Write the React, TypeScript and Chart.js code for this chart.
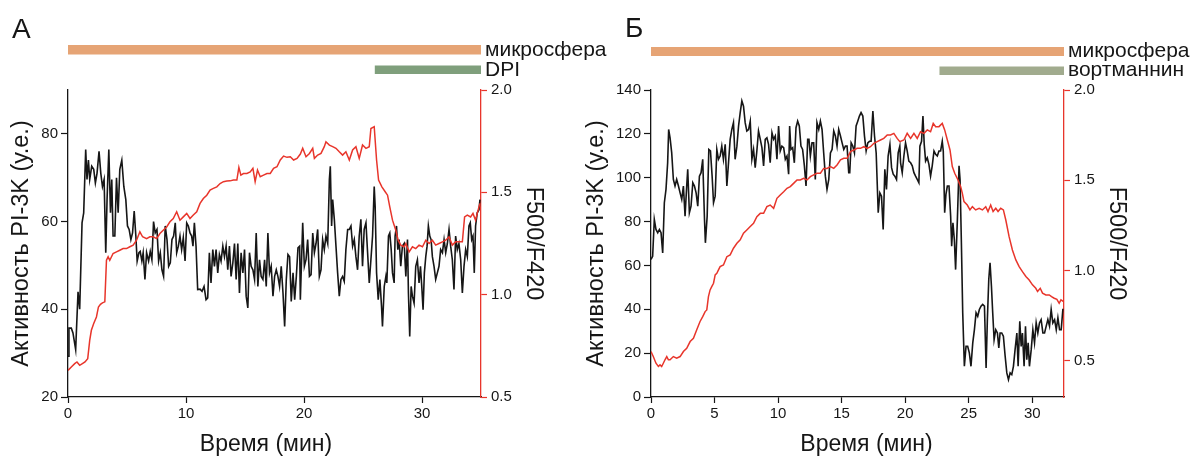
import React, { useEffect, useRef } from 'react';
import { Chart, registerables } from 'chart.js';

Chart.register(...registerables);

const FONT = "'Liberation Sans', Arial, sans-serif";
const INK = '#161616';
const RED = '#e8352b';

// ---------- Panel А (DPI) ----------
const aTitleLeft = 'Активность PI-3K (у.е.)';
const aTitleRight = 'F500/F420';
const xTitle = 'Время (мин)';

const aActivity: [number, number][] = [
  [0,29.3],[0.08,35.7],[0.28,35.7],[0.42,34.6],[0.65,30.8],[0.85,44],[0.99,40],[1.19,59.7],[1.33,62],[1.5,76.4],[1.61,69.6],[1.73,74],[1.84,69.6],[2.01,72.6],[2.18,71.9],[2.32,68.8],[2.46,71],[2.63,76],[2.78,71],[2.92,68],[3.06,69.6],[3.2,52.9],[3.31,65],[3.46,76.4],[3.6,62],[3.71,69.6],[3.82,56.7],[3.97,56.7],[4.11,70],[4.25,62],[4.39,71.9],[4.56,74],[4.73,68],[4.9,65],[5.04,59],[5.18,58.2],[5.33,55.9],[5.47,57.4],[5.61,62.4],[5.75,56.7],[5.86,51],[6.01,52.9],[6.12,53.2],[6.26,51],[6.37,52.9],[6.52,46.8],[6.66,52.9],[6.83,51],[6.97,53.2],[7.11,51.3],[7.25,60],[7.39,57.4],[7.54,58.2],[7.68,51],[7.82,52.9],[7.96,49],[8.1,47.5],[8.24,59],[8.39,55.9],[8.53,49.8],[8.67,50.6],[8.81,55.9],[8.95,56.7],[9.09,59.7],[9.21,52.9],[9.35,54.4],[9.49,56.7],[9.63,53.6],[9.77,56.3],[9.92,51],[10.06,59.7],[10.2,59],[10.34,57.4],[10.48,56.7],[10.59,54.4],[10.71,59.7],[10.85,54.4],[10.99,44.5],[11.19,44.6],[11.36,44.1],[11.53,45.2],[11.7,42.2],[11.84,42.6],[11.98,52.9],[12.12,46],[12.27,53.6],[12.41,49.8],[12.55,53.6],[12.69,48.3],[12.83,52.5],[12.97,51],[13.12,54.4],[13.26,52],[13.4,54.4],[13.54,49],[13.68,54.4],[13.82,47.5],[13.97,50.6],[14.11,55],[14.25,46.8],[14.39,55],[14.53,43.7],[14.67,52.9],[14.82,48.3],[14.96,53.6],[15.1,43],[15.24,40.3],[15.38,52.9],[15.52,49.8],[15.67,49],[15.81,46.8],[15.95,57.4],[16.09,45.2],[16.23,51.3],[16.37,47.5],[16.52,46.8],[16.66,51.3],[16.8,45.2],[16.94,57.4],[17.08,48.3],[17.22,49.8],[17.37,43],[17.51,47.5],[17.65,49],[17.79,47.5],[17.93,45.2],[18.07,49.8],[18.22,43.7],[18.36,36.1],[18.5,46.8],[18.64,52.5],[18.78,52],[18.92,41.8],[19.07,48.3],[19.21,42.2],[19.35,47.5],[19.49,54],[19.63,54.4],
  [19.69,42.2],[19.89,59.7],[20.03,49.8],[20.17,51.3],[20.31,55.9],[20.46,47.5],[20.6,47.9],[20.74,57.4],[20.88,52.9],[21.02,55],[21.16,58.2],[21.3,47.5],[21.44,49],[21.58,55.9],[21.72,53.6],[21.86,56.7],[22.01,55],[22.15,69.6],[22.23,72.6],[22.34,59],[22.43,65],[22.57,60.5],[22.71,54.4],[22.85,48.3],[22.99,43],[23.13,46.8],[23.27,47.5],[23.41,46.4],[23.55,53.6],[23.7,58.2],[23.84,58.2],[23.98,59],[24.12,54.4],[24.26,55.9],[24.4,52],[24.54,49],[24.68,56.7],[24.82,60.5],[24.96,49.8],[25.1,58.2],[25.25,59.7],[25.39,52.9],[25.53,46],[25.67,51.3],[25.81,56.7],[25.95,68],[26.03,63.5],[26.15,48.3],[26.29,42.2],[26.43,46.8],[26.57,40.7],[26.65,36.1],[26.8,45.2],[26.94,47.5],[27.02,46],[27.16,56.7],[27.27,57.4],[27.39,53.6],[27.5,48.3],[27.64,46],[27.72,56.7],[27.84,59],[27.95,53.6],[28.06,55.9],[28.2,49.8],[28.34,54.4],[28.49,55],[28.63,47.5],[28.77,55.9],[28.85,43.7],[28.96,33.8],[29.08,45.2],[29.19,43],[29.33,41.4],[29.47,49.8],[29.61,51.3],[29.75,46],[29.87,49.8],[29.98,45.2],[30.09,39.9],[30.2,48.3],[30.32,52],[30.43,54.4],[30.54,59],[30.66,56.7],[30.77,55.9],[30.88,52],[31.02,49.8],[31.16,46.8],[31.3,48.3],[31.44,49.8],[31.58,53.6],[31.73,52.9],[31.87,55.9],[32.01,52.9],[32.15,55],[32.29,58.2],[32.43,54.4],[32.57,51.3],[32.71,44.5],[32.85,56.7],[32.99,53.6],[33.13,55],[33.28,51.3],[33.42,43.7],[33.56,49.8],[33.7,53.6],[33.84,52],[33.98,59],[34.09,59.7],[34.21,55.9],[34.32,56.7],[34.43,48.3],[34.54,59],[34.68,62],[34.83,62.7],[34.91,65]
];

const aRatio: [number, number][] = [
  [0,0.63],[0.28,0.647],[0.57,0.663],[0.76,0.671],[0.99,0.655],[1.22,0.663],[1.44,0.671],[1.67,0.687],[1.84,0.777],[1.98,0.826],[2.18,0.859],[2.41,0.891],[2.58,0.94],[2.75,0.953],[2.92,0.96],[3.12,0.965],[3.26,1.168],[3.4,1.185],[3.54,1.168],[3.82,1.201],[4.11,1.209],[4.39,1.217],[4.67,1.225],[4.96,1.225],[5.24,1.234],[5.52,1.242],[5.81,1.266],[6.09,1.307],[6.32,1.283],[6.66,1.274],[6.94,1.283],[7.22,1.283],[7.51,1.274],[7.79,1.299],[8.07,1.315],[8.36,1.331],[8.64,1.356],[8.92,1.372],[9.21,1.405],[9.49,1.364],[9.77,1.38],[10.06,1.397],[10.34,1.372],[10.62,1.389],[10.91,1.405],[11.19,1.446],[11.47,1.47],[11.76,1.486],[12.04,1.511],[12.32,1.519],[12.61,1.527],[12.89,1.543],[13.17,1.552],[13.46,1.555],[13.74,1.556],[14.02,1.56],[14.31,1.56],[14.48,1.622],[14.65,1.584],[14.87,1.592],[15.16,1.592],[15.44,1.6],[15.67,1.617],[15.86,1.552],[16.06,1.609],[16.29,1.576],[16.57,1.584],[16.86,1.592],[17.14,1.592],[17.42,1.617],[17.71,1.625],[17.99,1.658],[18.27,1.677],[18.56,1.671],[18.84,1.674],[19.12,1.658],[19.41,1.666],[19.69,1.687],
  [19.89,1.715],[20.17,1.674],[20.46,1.69],[20.74,1.715],[20.88,1.666],[21.16,1.682],[21.44,1.69],[21.72,1.723],[21.86,1.747],[22.15,1.731],[22.43,1.723],[22.71,1.715],[22.99,1.698],[23.27,1.682],[23.55,1.698],[23.84,1.658],[24.12,1.707],[24.4,1.723],[24.68,1.666],[24.96,1.731],[25.25,1.715],[25.53,1.723],[25.67,1.812],[25.95,1.821],[26.15,1.658],[26.32,1.56],[26.6,1.527],[26.88,1.503],[27.08,1.486],[27.27,1.429],[27.5,1.364],[27.78,1.315],[27.98,1.266],[28.2,1.242],[28.49,1.234],[28.63,1.25],[28.91,1.209],[29.19,1.234],[29.47,1.225],[29.75,1.242],[30.04,1.234],[30.32,1.266],[30.6,1.25],[30.88,1.266],[31.16,1.242],[31.44,1.25],[31.73,1.258],[32.01,1.266],[32.29,1.283],[32.57,1.242],[32.85,1.258],[33.13,1.258],[33.42,1.258],[33.61,1.38],[33.84,1.389],[34.12,1.38],[34.32,1.397],[34.54,1.364],[34.68,1.397],[34.91,1.446]
];

const aTreatments = [
  { label: 'микросфера', start: 0, end: 35 },
  { label: 'DPI', start: 26, end: 35 },
];

// ---------- Panel Б (вортманнин) ----------
const bActivity: [number, number][] = [
  [0,62.7],[0.13,64.2],[0.26,81],[0.39,76.4],[0.53,74.9],[0.66,76.4],[0.79,74.9],[0.92,65.7],[1.05,88.6],[1.18,94.7],[1.31,106.8],[1.39,122],[1.5,118.2],[1.63,111.3],[1.76,99.2],[1.89,96.2],[2.02,99.2],[2.16,96.2],[2.29,93.1],[2.42,90.1],[2.55,96.2],[2.68,82.5],[2.81,96.2],[2.89,103.8],[3.02,84],[3.15,87],[3.29,97.7],[3.42,96.2],[3.55,93.1],[3.68,87],[3.81,100.7],[3.94,102.3],[4.07,108.4],[4.21,81],[4.28,70.3],[4.42,82.5],[4.55,112.9],[4.68,112.2],[4.81,100.7],[4.92,88.6],[5.05,91.6],[5.18,112.9],[5.31,108.4],[5.44,109.9],[5.57,114.4],[5.7,108.4],[5.84,115.2],[5.97,96.2],[6.1,106.8],[6.23,117.5],[6.36,122],[6.49,125.1],[6.62,108.4],[6.76,114.4],[6.89,123.6],[7.02,129.7],[7.15,135],[7.28,132.6],[7.41,125.1],[7.54,121.3],[7.68,122],[7.81,125.8],[7.94,108.4],[8.07,112.9],[8.2,104.6],[8.33,112.2],[8.46,121.3],[8.6,117.5],[8.73,113.7],[8.86,105.4],[8.99,117.5],[9.12,118.2],[9.25,115.2],[9.38,106.8],[9.52,120.5],[9.65,117.5],[9.78,119],[9.91,108.4],[10.04,123.6],[10.17,112.2],[10.3,114.4],[10.44,113.7],[10.57,108.4],[10.7,109.9],[10.83,101.6],[10.91,123.6],[11.01,112.9],[11.15,113.7],[11.28,106.8],[11.41,122.8],[11.54,125.8],[11.67,123.6],[11.8,114.4],[11.93,112.9],[12.07,105.4],[12.2,96.2],[12.33,117.5],[12.43,117.5],[12.54,109.9],[12.67,115.9],[12.8,115.9],[12.93,99.2],[13.06,125.1],[13.2,122],[13.33,125.8],[13.46,122],[13.59,111.3],[13.72,100.7],[13.85,94.7],[13.99,99.2],[14.12,111.3],[14.25,112.9],[14.38,121.3],[14.51,119],[14.64,114.4],[14.77,122],[14.91,119],[15.04,115.9],[15.17,112.9],[15.3,114.4],[15.43,114.4],[15.56,102.3],[15.64,102.3],[15.75,115.9],[15.88,114.4],[16.01,111.3],[16.14,123.6],[16.27,125.8],[16.4,128.1],[16.53,129.7],[16.67,128.1],[16.8,119],[16.93,112.2],[17.06,115.9],[17.19,116.6],[17.32,116.6],[17.46,130.4],[17.59,119],[17.72,111.3],[17.8,97.7],[17.88,84],[18.01,93.1],[18.14,91.6],[18.27,76.4],[18.4,103.8],[18.53,94.7],[18.66,109.9],[18.8,115.2],[18.93,104.6],[19.06,101.6],[19.19,100.7],[19.32,99.2],[19.45,111.3],[19.58,114.4],
  [19.64,106.8],[19.77,102.3],[19.9,109.9],[20.03,115.9],[20.16,112.2],[20.29,107.6],[20.43,106.8],[20.56,105.4],[20.69,102.3],[20.82,100.7],[20.95,99.2],[21.08,97.7],[21.16,114.4],[21.29,116.6],[21.4,128.1],[21.5,115.2],[21.61,107.6],[21.74,109.1],[21.87,106.1],[22.0,100.7],[22.13,105.4],[22.27,112.2],[22.4,110.7],[22.53,109.9],[22.66,112.2],[22.79,112.2],[22.92,116.6],[23.0,112.2],[23.11,84],[23.21,92.4],[23.32,96.2],[23.45,96.2],[23.58,82.5],[23.66,68.8],[23.76,79.4],[23.87,71.8],[23.97,58.1],[24.11,81],[24.24,105.4],[24.32,99.2],[24.42,71.8],[24.53,38.4],[24.66,14],[24.79,23.1],[24.92,23.1],[25.05,20.1],[25.18,14],[25.32,24.7],[25.45,30.7],[25.58,38.4],[25.71,36.8],[25.84,39.9],[25.97,41.4],[26.1,42.2],[26.24,41.4],[26.37,13.2],[26.47,35.3],[26.58,53.6],[26.68,61.2],[26.79,50.5],[26.89,38.4],[27.0,26.2],[27.13,30.7],[27.26,29.2],[27.37,22.4],[27.47,29.2],[27.6,29.2],[27.73,27.7],[27.87,18.6],[28.0,11],[28.13,7.9],[28.26,11],[28.39,10.2],[28.52,14],[28.65,21.6],[28.79,29.2],[28.89,14],[29.02,34.5],[29.13,23.1],[29.23,29.2],[29.36,14],[29.47,32.3],[29.57,17],[29.68,24.7],[29.78,14],[29.92,21.6],[30.05,30.7],[30.18,24.7],[30.31,33.8],[30.44,29.2],[30.57,33.8],[30.7,35.3],[30.84,29.2],[30.97,29.2],[31.1,32.3],[31.23,35.3],[31.36,32.3],[31.49,39.9],[31.62,33.8],[31.76,35.3],[31.89,30.7],[32.02,36.1],[32.15,30.7],[32.28,30.7],[32.41,39.9],[32.47,39.9]
];

const bRatio: [number, number][] = [
  [0,0.552],[0.18,0.524],[0.39,0.487],[0.58,0.469],[0.71,0.478],[0.84,0.469],[0.97,0.487],[1.1,0.506],[1.24,0.524],[1.37,0.506],[1.5,0.506],[1.76,0.524],[2.02,0.515],[2.29,0.524],[2.55,0.552],[2.81,0.57],[3.08,0.607],[3.34,0.625],[3.6,0.672],[3.86,0.718],[4.07,0.745],[4.26,0.773],[4.39,0.782],[4.52,0.856],[4.65,0.893],[4.78,0.911],[4.92,0.93],[5.05,0.976],[5.18,0.985],[5.31,1.004],[5.44,1.022],[5.7,1.031],[5.97,1.077],[6.23,1.087],[6.49,1.124],[6.76,1.151],[7.02,1.17],[7.28,1.207],[7.54,1.225],[7.81,1.244],[8.07,1.262],[8.33,1.299],[8.6,1.317],[8.86,1.317],[9.12,1.354],[9.38,1.363],[9.65,1.345],[9.91,1.4],[10.17,1.419],[10.44,1.437],[10.7,1.456],[10.96,1.465],[11.22,1.483],[11.49,1.502],[11.75,1.502],[12.01,1.511],[12.28,1.502],[12.54,1.52],[12.8,1.53],[13.06,1.539],[13.33,1.539],[13.59,1.566],[13.85,1.566],[14.12,1.576],[14.38,1.566],[14.64,1.585],[14.91,1.613],[15.17,1.622],[15.43,1.622],[15.7,1.659],[15.96,1.668],[16.22,1.677],[16.48,1.677],[16.75,1.686],[17.01,1.677],[17.27,1.686],[17.54,1.705],[17.8,1.714],[18.06,1.723],[18.32,1.732],[18.59,1.751],[18.85,1.751],[19.11,1.76],[19.37,1.732],[19.58,1.714],
  [19.9,1.723],[20.16,1.76],[20.43,1.732],[20.69,1.76],[20.95,1.732],[21.21,1.769],[21.48,1.76],[21.74,1.779],[22.0,1.769],[22.21,1.815],[22.4,1.797],[22.66,1.797],[22.92,1.815],[23.11,1.779],[23.32,1.723],[23.53,1.668],[23.71,1.576],[23.9,1.539],[24.16,1.502],[24.37,1.465],[24.5,1.428],[24.63,1.382],[24.89,1.363],[25.1,1.336],[25.29,1.354],[25.55,1.336],[25.82,1.345],[26.08,1.336],[26.34,1.354],[26.52,1.327],[26.73,1.363],[26.92,1.327],[27.13,1.345],[27.31,1.327],[27.52,1.345],[27.73,1.336],[27.92,1.28],[28.18,1.188],[28.44,1.114],[28.71,1.059],[28.97,1.022],[29.23,0.994],[29.5,0.967],[29.76,0.948],[30.02,0.921],[30.28,0.902],[30.42,0.884],[30.63,0.902],[30.81,0.875],[31.07,0.865],[31.34,0.865],[31.52,0.856],[31.73,0.847],[31.94,0.841],[32.12,0.819],[32.26,0.838],[32.47,0.828]
];

const bTreatments = [
  { label: 'микросфера', start: 0, end: 32.5 },
  { label: 'вортманнин', start: 22.7, end: 32.5 },
];

type Panel = {
  letter: string;
  activity: [number, number][];
  ratio: [number, number][];
  treatments: { label: string; start: number; end: number }[];
  xMax: number; xStep: number;
  yMin: number; yMax: number; yStep: number;
  rMin: number; rMax: number;
  canvasW: number;
  leftW: number; leftPad: number;
  rightW: number; rightPad: number;
  barColors: string[];
  barTops: number[]; barHeights: number[]; labelBase: number[];
  letterX: number; letterY: number; xTitleX: number;
};

const panels: Panel[] = [
  {
    letter: 'А', activity: aActivity, ratio: aRatio, treatments: aTreatments,
    xMax: 35, xStep: 10, yMin: 20, yMax: 90, yStep: 20, rMin: 0.5, rMax: 2.0,
    canvasW: 620, leftW: 68, leftPad: 10, rightW: 139, rightPad: 75,
    barColors: ['#e6a475', '#7f9f7c'], barTops: [45, 65.5], barHeights: [9.5, 8.5], labelBase: [55.5, 75.5],
    letterX: 12, letterY: 38, xTitleX: 266,
  },
  {
    letter: 'Б', activity: bActivity, ratio: bRatio, treatments: bTreatments,
    xMax: 32.5, xStep: 5, yMin: 0, yMax: 140, yStep: 20, rMin: 0.3, rMax: 2.0,
    canvasW: 617, leftW: 76, leftPad: 10, rightW: 128, rightPad: 64,
    barColors: ['#e6a475', '#a1ab8e'], barTops: [47, 66.5], barHeights: [9, 8.5], labelBase: [56.5, 75.5],
    letterX: 50, letterY: 37, xTitleX: 291.5,
  },
];

function overlay(p: Panel) {
  return {
    id: 'overlay',
    afterDraw(chart: any) {
      const ctx = chart.ctx as CanvasRenderingContext2D;
      const xs = chart.scales.x;
      ctx.save();
      ctx.fillStyle = INK;
      ctx.textAlign = 'left';
      ctx.textBaseline = 'alphabetic';
      ctx.font = `28px ${FONT}`;
      ctx.fillText(p.letter, p.letterX, p.letterY);
      p.treatments.forEach((t, i) => {
        const x0 = xs.getPixelForValue(t.start);
        const x1 = xs.getPixelForValue(t.end);
        ctx.fillStyle = p.barColors[i];
        ctx.fillRect(x0, p.barTops[i], x1 - x0, p.barHeights[i]);
        ctx.fillStyle = INK;
        ctx.font = `21px ${FONT}`;
        ctx.fillText(t.label, x1 + 4, p.labelBase[i]);
      });
      ctx.font = `23px ${FONT}`;
      ctx.textAlign = 'center';
      ctx.fillText(xTitle, p.xTitleX, 451);
      ctx.restore();
    },
  };
}

function makeChart(canvas: HTMLCanvasElement, p: Panel) {
  const tickFont = { family: FONT, size: 15 };
  const titleFont = { family: FONT, size: 23.5, lineHeight: 1 };
  return new Chart(canvas, {
    type: 'line',
    data: {
      datasets: [
        {
          data: p.ratio.map(([x, y]) => ({ x, y })),
          yAxisID: 'y2', borderColor: RED, borderWidth: 1.5,
          pointRadius: 0, tension: 0, fill: false,
        },
        {
          data: p.activity.map(([x, y]) => ({ x, y })),
          yAxisID: 'y', borderColor: INK, borderWidth: 1.6,
          pointRadius: 0, tension: 0, fill: false,
        },
      ],
    },
    options: {
      responsive: false,
      animation: false,
      events: [],
      layout: { padding: { top: 90, left: 0, right: 0, bottom: 0 } },
      plugins: { legend: { display: false }, tooltip: { enabled: false }, title: { display: false } },
      scales: {
        x: {
          type: 'linear', position: 'bottom', min: 0, max: p.xMax,
          ticks: { stepSize: p.xStep, includeBounds: false, font: tickFont, color: INK, padding: 2, maxRotation: 0, autoSkip: false },
          grid: { drawOnChartArea: false, drawTicks: true, tickLength: 6, tickColor: INK, tickWidth: 1.2 },
          border: { display: true, color: INK, width: 1.3 },
          afterFit: (s: any) => { s.height = 59; },
        },
        y: {
          type: 'linear', position: 'left', min: p.yMin, max: p.yMax,
          ticks: { stepSize: p.yStep, includeBounds: false, font: tickFont, color: INK, padding: 3 },
          grid: { drawOnChartArea: false, drawTicks: true, tickLength: 7, tickColor: INK, tickWidth: 1.2 },
          border: { display: true, color: INK, width: 1.3 },
          title: { display: true, text: aTitleLeft, font: titleFont, color: INK, padding: { top: p.leftPad, bottom: 0 } },
          afterFit: (s: any) => { s.width = p.leftW; },
        },
        y2: {
          type: 'linear', position: 'right', min: p.rMin, max: p.rMax,
          ticks: { stepSize: 0.5, includeBounds: false, font: tickFont, color: INK, padding: 4, callback: (v: any) => Number(v).toFixed(1) },
          grid: { drawOnChartArea: false, drawTicks: true, tickLength: 6, tickColor: RED, tickWidth: 1.2 },
          border: { display: true, color: RED, width: 1.3 },
          title: { display: true, text: aTitleRight, font: titleFont, color: INK, padding: { top: p.rightPad, bottom: 0 } },
          afterFit: (s: any) => { s.width = p.rightW; },
        },
      },
    } as any,
    plugins: [overlay(p)],
  });
}

export default function App() {
  const refA = useRef<HTMLCanvasElement>(null);
  const refB = useRef<HTMLCanvasElement>(null);
  useEffect(() => {
    Chart.defaults.font.family = FONT;
    const c1 = makeChart(refA.current!, panels[0]);
    const c2 = makeChart(refB.current!, panels[1]);
    return () => { c1.destroy(); c2.destroy(); };
  }, []);
  return (
    <div style={{ position: 'absolute', left: 0, top: 0, width: 1192, height: 456, background: '#fff', overflow: 'hidden' }}>
      <canvas ref={refA} width={620} height={456} style={{ position: 'absolute', left: 0, top: 0, display: 'block' }} />
      <canvas ref={refB} width={617} height={456} style={{ position: 'absolute', left: 575, top: 0, display: 'block' }} />
    </div>
  );
}
